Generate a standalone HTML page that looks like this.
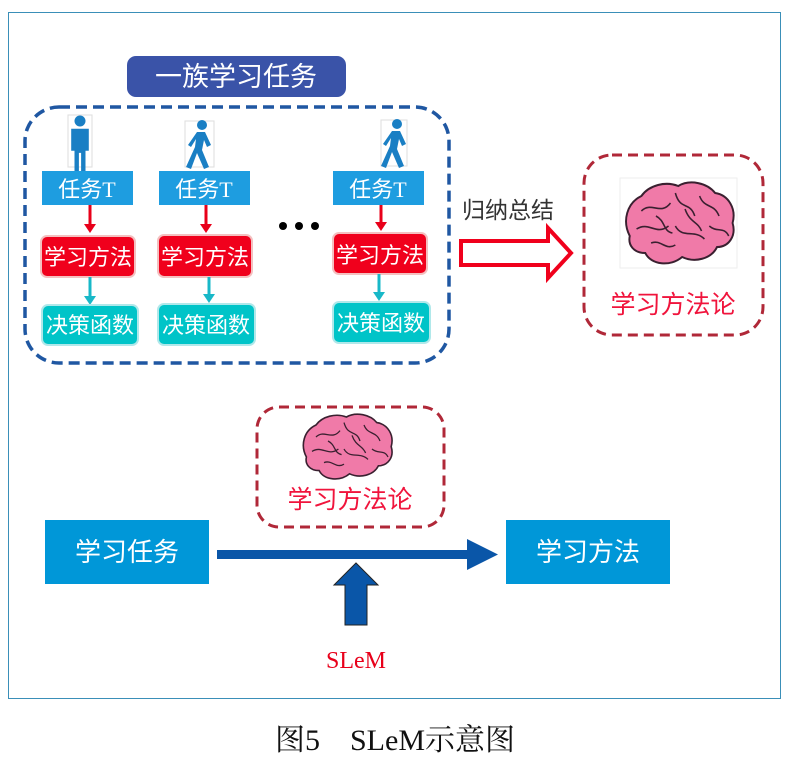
<!DOCTYPE html>
<html><head><meta charset="utf-8"><style>
html,body{margin:0;padding:0;background:#fff;width:796px;height:762px;overflow:hidden}
svg{display:block}
.cjk{font-family:"Liberation Sans","Noto Sans CJK SC",sans-serif}
.ser{font-family:"Liberation Serif","Noto Serif CJK SC",serif}
</style></head><body>
<svg width="796" height="762" viewBox="0 0 796 762" xmlns="http://www.w3.org/2000/svg">
<defs>
<g id="brain">
<path d="M8,55 C0,40 5,22 20,15 C28,4 45,0 58,5 C70,-2 88,2 96,12 C110,14 118,28 114,42 C118,55 110,66 98,66 C92,78 75,82 62,76 C50,86 30,84 24,72 C12,72 6,64 8,55 Z" fill="#f07aa8" stroke="#3a2030" stroke-width="2"/>
<path d="M20,30 C30,20 40,35 50,22 M55,12 C60,30 70,20 75,35 M80,15 C85,28 95,22 100,35 M15,48 C28,40 35,55 48,45 M55,45 C62,58 75,48 85,58 M90,45 C98,52 105,45 110,55 M30,62 C40,58 45,70 55,64 M35,35 C45,40 42,50 52,52 M65,28 C70,42 78,40 82,50" fill="none" stroke="#3a2030" stroke-width="1.6"/>
</g>
<g id="man"><circle cx="0" cy="-20" r="5" fill="#1a7fc4"/><path d="M-8,-13 h16 v20 h-3 v20 h-4 v-18 h-2 v18 h-4 v-20 h-3 z" fill="#1a7fc4"/></g>
<g id="walk"><circle cx="3" cy="-20" r="5" fill="#1a7fc4"/><path d="M-2,-13 L6,-13 L12,0 L8,2 L5,-5 L3,5 L10,22 L5,24 L-2,8 L-8,24 L-13,22 L-4,2 L-3,-6 L-8,2 L-11,0 Z" fill="#1a7fc4"/></g>
</defs>
<rect x="8.5" y="12.5" width="772" height="686" fill="none" stroke="#3a8fb8" stroke-width="1"/>
<rect x="127" y="56" width="219" height="41" rx="9" fill="#3a53a8"/>
<text x="236" y="86" text-anchor="middle" class="cjk" font-size="27" fill="#fff">一族学习任务</text>
<rect x="25" y="107" width="424" height="256" rx="34" fill="none" stroke="#1f57a2" stroke-width="3.5" stroke-dasharray="11,6"/>
<rect x="68" y="115" width="24" height="52" fill="#fff" stroke="#ddd"/><g transform="translate(80,143) scale(1.1)"><use href="#man"/></g>
<rect x="185" y="121" width="29" height="46" fill="#fff" stroke="#ddd"/><g transform="translate(199,145)"><use href="#walk"/></g>
<rect x="381" y="120" width="26" height="46" fill="#fff" stroke="#ddd"/><g transform="translate(394,144)"><use href="#walk"/></g>
<g class="cjk">
<rect x="42" y="171" width="91" height="34" fill="#1e9de0"/><text x="87" y="197" text-anchor="middle" font-size="22" fill="#fff">任务<tspan class="ser">T</tspan></text>
<rect x="159" y="171" width="91" height="34" fill="#1e9de0"/><text x="204" y="197" text-anchor="middle" font-size="22" fill="#fff">任务<tspan class="ser">T</tspan></text>
<rect x="333" y="171" width="91" height="34" fill="#1e9de0"/><text x="378" y="197" text-anchor="middle" font-size="22" fill="#fff">任务<tspan class="ser">T</tspan></text>
</g>
<g stroke="#e8001a" stroke-width="3" fill="#e8001a">
<line x1="90" y1="205" x2="90" y2="226"/><path d="M84,224 L96,224 L90,233 Z" stroke="none"/>
<line x1="206" y1="205" x2="206" y2="226"/><path d="M200,224 L212,224 L206,233 Z" stroke="none"/>
<line x1="381" y1="205" x2="381" y2="224"/><path d="M375,222 L387,222 L381,231 Z" stroke="none"/>
</g>
<g class="cjk">
<rect x="41" y="236" width="94" height="41" rx="6" fill="#f0001c" stroke="#f4c0c0" stroke-width="2"/><text x="88" y="265" text-anchor="middle" font-size="22" fill="#fff">学习方法</text>
<rect x="158" y="235" width="94" height="42" rx="6" fill="#f0001c" stroke="#f4c0c0" stroke-width="2"/><text x="205" y="265" text-anchor="middle" font-size="22" fill="#fff">学习方法</text>
<rect x="333" y="233" width="94" height="41" rx="6" fill="#f0001c" stroke="#f4c0c0" stroke-width="2"/><text x="380" y="263" text-anchor="middle" font-size="22" fill="#fff">学习方法</text>
</g>
<g stroke="#18b8c8" stroke-width="3" fill="#18b8c8">
<line x1="90" y1="277" x2="90" y2="298"/><path d="M84,296 L96,296 L90,305 Z" stroke="none"/>
<line x1="209" y1="277" x2="209" y2="296"/><path d="M203,294 L215,294 L209,303 Z" stroke="none"/>
<line x1="379" y1="274" x2="379" y2="294"/><path d="M373,292 L385,292 L379,301 Z" stroke="none"/>
</g>
<g class="cjk">
<rect x="42" y="305" width="96" height="40" rx="6" fill="#00c4c8" stroke="#b0e8ea" stroke-width="2"/><text x="90" y="333" text-anchor="middle" font-size="22" fill="#fff">决策函数</text>
<rect x="158" y="304" width="97" height="41" rx="6" fill="#00c4c8" stroke="#b0e8ea" stroke-width="2"/><text x="206" y="333" text-anchor="middle" font-size="22" fill="#fff">决策函数</text>
<rect x="333" y="302" width="97" height="41" rx="6" fill="#00c4c8" stroke="#b0e8ea" stroke-width="2"/><text x="381" y="331" text-anchor="middle" font-size="22" fill="#fff">决策函数</text>
</g>
<circle cx="283" cy="226" r="4" fill="#000"/><circle cx="299" cy="226" r="4" fill="#000"/><circle cx="315" cy="226" r="4" fill="#000"/>
<text x="508" y="218" text-anchor="middle" class="cjk" font-size="23" fill="#333">归纳总结</text>
<path d="M461,241 L548,241 L548,228 L571,253 L548,278 L548,265 L461,265 Z" fill="#fff" stroke="#f0001c" stroke-width="4" stroke-linejoin="miter"/>
<rect x="584" y="155" width="179" height="180" rx="28" fill="none" stroke="#b02838" stroke-width="3" stroke-dasharray="10,6"/>
<rect x="620" y="178" width="117" height="90" fill="#fff" stroke="#eee"/>
<g transform="translate(622,181) scale(0.97,1.0)"><use href="#brain"/></g>
<text x="673" y="313" text-anchor="middle" class="cjk" font-size="25" fill="#f0143c">学习方法论</text>
<rect x="257" y="407" width="187" height="120" rx="22" fill="none" stroke="#b02838" stroke-width="3" stroke-dasharray="10,6"/>
<g transform="translate(300,413) scale(0.8)"><use href="#brain"/></g>
<text x="350" y="508" text-anchor="middle" class="cjk" font-size="25" fill="#f0143c">学习方法论</text>
<rect x="45" y="520" width="164" height="64" fill="#0097d8"/>
<text x="127" y="561" text-anchor="middle" class="cjk" font-size="26" fill="#fff">学习任务</text>
<rect x="506" y="520" width="164" height="64" fill="#0097d8"/>
<text x="588" y="561" text-anchor="middle" class="cjk" font-size="26" fill="#fff">学习方法</text>
<rect x="217" y="550" width="252" height="9" fill="#0a56a8"/>
<path d="M467,539 L498,554.5 L467,570 Z" fill="#0a56a8"/>
<path d="M345,625 L367,625 L367,585 L378,585 L356,563 L334,585 L345,585 Z" fill="#0a56a8" stroke="#222" stroke-width="1"/>
<text x="356" y="668" text-anchor="middle" class="ser" font-size="24" fill="#e8001a">SLeM</text>
<text x="395" y="750" text-anchor="middle" class="ser" font-size="30" fill="#111">图5　SLeM示意图</text>
</svg>
</body></html>
